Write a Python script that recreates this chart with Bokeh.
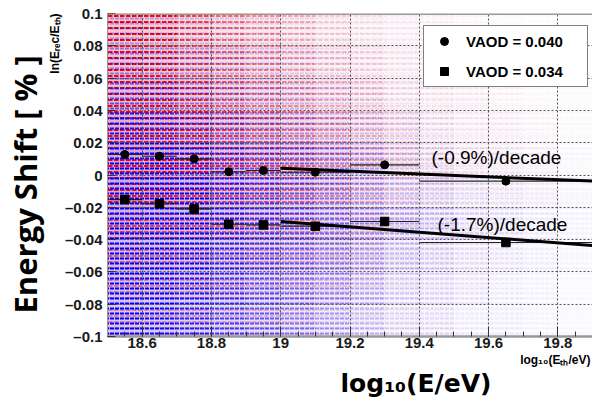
import math
from bokeh.plotting import figure
from bokeh.models import (ColumnDataSource, FixedTicker, CustomJSTickFormatter, Label,
                          Legend, LegendItem, Span, Title)
from bokeh.embed import file_html
from bokeh.resources import INLINE

# ---------------- data ----------------
x_bin_center = [18.55, 18.65, 18.75, 18.85, 18.95, 19.10, 19.30, 19.65]
x_bin_lo     = [18.50, 18.60, 18.70, 18.80, 18.90, 19.00, 19.20, 19.40]
x_bin_hi     = [18.60, 18.70, 18.80, 18.90, 19.00, 19.20, 19.40, 19.90]
shift_vaod040 = [0.0127, 0.0116, 0.0100, 0.0020, 0.0028, 0.0017, 0.0063, -0.0038]
shift_vaod034 = [-0.0152, -0.0178, -0.0210, -0.0305, -0.0309, -0.0317, -0.0288, -0.0418]
shift_err     = [0.0005, 0.0006, 0.0007, 0.0008, 0.0010, 0.0012, 0.0020, 0.0020]

fit_x = [19.0, 19.9]
fit_vaod040 = [0.0042, -0.0038]
fit_vaod034 = [-0.0288, -0.0437]

x_ticks = [18.6, 18.8, 19.0, 19.2, 19.4, 19.6, 19.8]
x_minor = [round(18.5 + 0.05 * i, 2) for i in range(29)]
y_ticks = [-0.1, -0.08, -0.06, -0.04, -0.02, 0.0, 0.02, 0.04, 0.06, 0.08, 0.1]

# background event density (read by eye), rows from top (0.08..0.1) to bottom (-0.1..-0.08)
dens_col_x = [18.55, 18.65, 18.75, 18.85, 18.95, 19.05, 19.15, 19.25, 19.35, 19.45, 19.55, 19.65, 19.75, 19.85]
dens_row_y = [0.09, 0.07, 0.05, 0.03, 0.01, -0.01, -0.03, -0.05, -0.07, -0.09]
red_density = [
    [0.90, 0.80, 0.60, 0.45, 0.35, 0.25, 0.15, 0.10, 0.05, 0.05, 0.03, 0.02, 0.02, 0.01],
    [0.90, 0.80, 0.60, 0.50, 0.40, 0.30, 0.20, 0.15, 0.08, 0.06, 0.04, 0.03, 0.02, 0.01],
    [0.90, 0.85, 0.70, 0.55, 0.45, 0.35, 0.25, 0.20, 0.10, 0.08, 0.05, 0.04, 0.02, 0.01],
    [0.95, 0.90, 0.80, 0.65, 0.55, 0.45, 0.35, 0.25, 0.15, 0.10, 0.06, 0.05, 0.03, 0.02],
    [0.95, 0.90, 0.80, 0.70, 0.60, 0.50, 0.40, 0.30, 0.20, 0.12, 0.08, 0.06, 0.04, 0.02],
    [0.80, 0.75, 0.65, 0.55, 0.50, 0.45, 0.35, 0.25, 0.15, 0.10, 0.06, 0.05, 0.03, 0.02],
    [0.60, 0.55, 0.50, 0.45, 0.40, 0.35, 0.25, 0.20, 0.12, 0.08, 0.05, 0.04, 0.02, 0.01],
    [0.45, 0.40, 0.35, 0.30, 0.30, 0.25, 0.20, 0.15, 0.08, 0.06, 0.04, 0.03, 0.02, 0.01],
    [0.35, 0.30, 0.30, 0.25, 0.20, 0.20, 0.15, 0.10, 0.06, 0.04, 0.03, 0.02, 0.01, 0.01],
    [0.30, 0.25, 0.25, 0.20, 0.20, 0.15, 0.10, 0.08, 0.05, 0.04, 0.02, 0.02, 0.01, 0.01],
]
blue_density = [
    [0.25, 0.20, 0.15, 0.12, 0.10, 0.08, 0.05, 0.04, 0.03, 0.02, 0.01, 0.01, 0.00, 0.00],
    [0.35, 0.30, 0.25, 0.20, 0.15, 0.12, 0.08, 0.05, 0.04, 0.03, 0.02, 0.01, 0.01, 0.00],
    [0.50, 0.45, 0.35, 0.28, 0.22, 0.18, 0.13, 0.09, 0.06, 0.04, 0.03, 0.02, 0.01, 0.01],
    [0.75, 0.65, 0.50, 0.42, 0.33, 0.28, 0.20, 0.15, 0.10, 0.06, 0.04, 0.03, 0.02, 0.01],
    [0.95, 0.90, 0.75, 0.60, 0.50, 0.45, 0.35, 0.25, 0.15, 0.10, 0.06, 0.05, 0.03, 0.02],
    [1.00, 0.95, 0.85, 0.70, 0.60, 0.50, 0.40, 0.30, 0.20, 0.15, 0.10, 0.08, 0.05, 0.03],
    [1.00, 0.95, 0.85, 0.75, 0.65, 0.55, 0.45, 0.35, 0.25, 0.20, 0.12, 0.10, 0.06, 0.04],
    [0.95, 0.90, 0.80, 0.70, 0.60, 0.50, 0.40, 0.30, 0.20, 0.15, 0.10, 0.08, 0.05, 0.03],
    [0.90, 0.85, 0.75, 0.65, 0.55, 0.45, 0.35, 0.25, 0.15, 0.12, 0.08, 0.06, 0.04, 0.02],
    [0.85, 0.80, 0.70, 0.60, 0.50, 0.40, 0.30, 0.20, 0.12, 0.10, 0.06, 0.05, 0.03, 0.02],
]

# ---------------- figure ----------------
W, H = 592, 401
FL, FR, FT, FB = 107, 592, 13, 336
X0, X1, Y0, Y1 = 18.5, 19.9, -0.1, 0.1

def dx(px):
    return X0 + (px - FL) / (FR - FL) * (X1 - X0)

def dy(py):
    return Y1 - (py - FT) / (FB - FT) * (Y1 - Y0)

p = figure(width=W, height=H, x_range=(X0, X1), y_range=(Y0, Y1),
           output_backend="svg", toolbar_location=None,
           min_border_left=FL, min_border_right=W - FR, min_border_top=FT,
           min_border_bottom=H - FB)
p.outline_line_color = None
p.background_fill_color = "white"
p.border_fill_color = "white"

# background events as hatched density cells
cx, cy, ra, ba, rf, bf = [], [], [], [], [], []
for i, yc in enumerate(dens_row_y):
    for j, xc in enumerate(dens_col_x):
        cx.append(xc)
        cy.append(yc)
        ra.append(min(1.0, 1.2 * red_density[i][j]))
        ba.append(min(1.0, 1.2 * blue_density[i][j]))
        rf.append(0.20 * red_density[i][j])
        bf.append(0.20 * blue_density[i][j])
cells = ColumnDataSource(dict(x=cx, y=cy, ra=ra, ba=ba, rf=rf, bf=bf))
p.rect("x", "y", width=0.1, height=0.02, source=cells, fill_color="#ff0000",
       fill_alpha="rf", line_alpha=0, level="image")
p.rect("x", "y", width=0.1, height=0.02, source=cells, fill_color="#0000ff",
       fill_alpha="bf", line_alpha=0, level="image")
p.rect("x", "y", width=0.1, height=0.02, source=cells, fill_alpha=0, line_alpha=0,
       hatch_pattern="horizontal_dash", hatch_color="#ff0000", hatch_alpha="ra",
       hatch_scale=6, hatch_weight=2, level="image")
p.rect("x", "y", width=0.1, height=0.02, source=cells, fill_alpha=0, line_alpha=0,
       hatch_pattern="horizontal_dash", hatch_color="#0000ff", hatch_alpha="ba",
       hatch_scale=5, hatch_weight=2, level="image")

# grid
for g in (p.xgrid, p.ygrid):
    g.grid_line_color = "#555555"
    g.grid_line_dash = "2 2"
    g.grid_line_width = 1
p.xgrid.ticker = FixedTicker(ticks=x_ticks)
p.ygrid.ticker = FixedTicker(ticks=y_ticks[1:-1])

# axes
p.xaxis.ticker = FixedTicker(ticks=x_ticks, minor_ticks=x_minor)
p.xaxis.formatter = CustomJSTickFormatter(code="return tick.toFixed(1).replace(/\\.0$/, '');")
p.yaxis.ticker = FixedTicker(ticks=y_ticks)
p.yaxis.formatter = CustomJSTickFormatter(code="""
if (Math.abs(tick) < 1e-9) { return '0'; }
var s = Math.abs(tick).toFixed(2).replace(/0$/, '');
return (tick < 0 ? '\\u2013' : '') + s;
""")
for ax in (p.xaxis, p.yaxis):
    ax.axis_line_color = "#999999"
    ax.major_tick_out = 0
    ax.minor_tick_out = 0
    ax.major_tick_line_color = "#333333"
    ax.minor_tick_line_color = "#333333"
    ax.major_label_text_font = "Liberation Sans"
    ax.major_label_text_font_style = "bold"
    ax.major_label_text_font_size = "15px"
    ax.major_label_text_color = "#1a1a1a"
p.xaxis.axis_line_width = 2.5
p.yaxis.axis_line_width = 1
p.xaxis.major_tick_in = 10
p.xaxis.minor_tick_in = 5
p.yaxis.major_tick_in = 8
p.yaxis.minor_tick_in = 0
p.xaxis.major_label_standoff = 1
p.yaxis.major_label_standoff = 5

top_line = Span(location=Y1, dimension="width", line_color="#999999", line_width=3)
p.add_layout(top_line)

# error bars
src040 = ColumnDataSource(dict(x=x_bin_center, lo=x_bin_lo, hi=x_bin_hi, y=shift_vaod040,
                               ylo=[a - e for a, e in zip(shift_vaod040, shift_err)],
                               yhi=[a + e for a, e in zip(shift_vaod040, shift_err)]))
src034 = ColumnDataSource(dict(x=x_bin_center, lo=x_bin_lo, hi=x_bin_hi, y=shift_vaod034,
                               ylo=[a - e for a, e in zip(shift_vaod034, shift_err)],
                               yhi=[a + e for a, e in zip(shift_vaod034, shift_err)]))
for s in (src040, src034):
    p.segment("lo", "y", "hi", "y", source=s, line_color="#222222", line_width=1.2)
    p.segment("x", "ylo", "x", "yhi", source=s, line_color="#222222", line_width=1.2)

# fits
p.line(fit_x, fit_vaod040, line_color="black", line_width=3)
p.line(fit_x, fit_vaod034, line_color="black", line_width=3)

r040 = p.scatter("x", "y", source=src040, marker="circle", size=8, color="black")
r034 = p.scatter("x", "y", source=src034, marker="square", size=8.5, color="black")

legend = Legend(items=[LegendItem(label="VAOD = 0.040", renderers=[r040]),
                       LegendItem(label="VAOD = 0.034", renderers=[r034])],
                location=(423 - FL, FB - 87), orientation="vertical",
                border_line_color="black", border_line_width=1,
                background_fill_color="white", background_fill_alpha=1.0,
                label_text_font="Liberation Sans", label_text_font_style="bold",
                label_text_font_size="15px", label_text_color="black",
                padding=5, spacing=10, label_height=20, glyph_height=20, glyph_width=30,
                label_standoff=7, label_width=116, margin=0)
p.add_layout(legend)

# fit annotations
p.add_layout(Label(x=dx(431), y=dy(157), text="(-0.9%)/decade", text_font="Liberation Sans",
                   text_font_size="19px", text_baseline="middle", text_align="left",
                   text_color="black"))
p.add_layout(Label(x=dx(437), y=dy(224), text="(-1.7%)/decade", text_font="Liberation Sans",
                   text_font_size="19px", text_baseline="middle", text_align="left",
                   text_color="black"))

# axis titles (side panels, stacked outward from the frame)
small_y = Title(text="ln(E\u1d63\u2091c/E\u209c\u2095)", align="right", offset=0, standoff=0,
                text_font="Liberation Sans", text_font_style="bold", text_font_size="12px",
                text_color="black")
big_y = Title(text="Energy Shift [ % ]", align="left", offset=23, standoff=0,
              text_font="Open Sans", text_font_style="bold", text_font_size="31px",
              text_color="black")
p.add_layout(small_y, "left")
p.add_layout(big_y, "left")

small_x = Title(text="log\u2081\u2080(E\u209c\u2095/eV)", align="right", offset=2, standoff=0,
                text_font="Liberation Sans", text_font_style="bold", text_font_size="12px",
                text_color="black")
big_x = Title(text="log\u2081\u2080(E/eV)", align="left", offset=233, standoff=0,
              text_font="DejaVu Sans", text_font_style="bold", text_font_size="25px",
              text_color="black")
p.add_layout(small_x, "below")
p.add_layout(big_x, "below")

open("out.html", "w").write(file_html(p, INLINE))
